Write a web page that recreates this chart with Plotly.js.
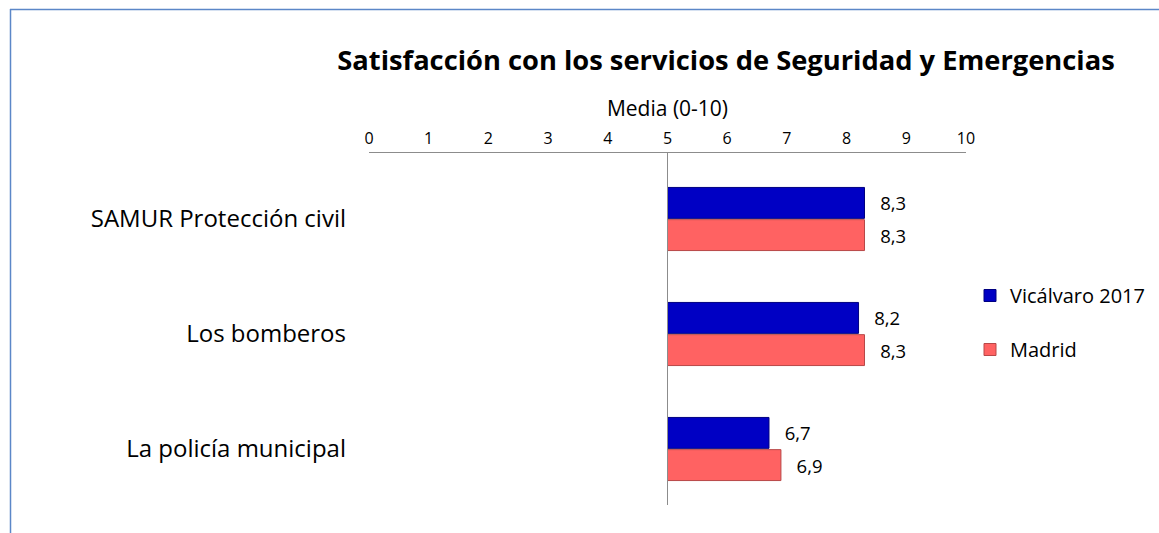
<!DOCTYPE html>
<html>
<head>
<meta charset="utf-8">
<script src="https://cdn.plot.ly/plotly-3.0.1.min.js"></script>
<style>
html,body{margin:0;padding:0;background:#fff;}
#chart{width:1159px;height:533px;}
</style>
</head>
<body>
<div id="chart"></div>
<script>
const categories = ["SAMUR Protección civil", "Los bomberos", "La policía municipal"];
const vicalvaro2017 = [8.3, 8.2, 6.7];
const madrid = [8.3, 8.3, 6.9];
const seriesNames = ["Vicálvaro 2017", "Madrid"];
const xTicks = [0, 1, 2, 3, 4, 5, 6, 7, 8, 9, 10];
const axisBase = 5;

const fmt = v => v.toFixed(1).replace('.', ',');
const FONT = "'Open Sans', sans-serif";

function mkTrace(vals, name, color, lineColor, group) {
  return {
    type: 'bar',
    orientation: 'h',
    name: name,
    legendgroup: group,
    y: categories,
    x: vals.map(v => v - axisBase),
    base: axisBase,
    text: vals.map(v => '  \u2009' + fmt(v)),
    textposition: 'outside',
    constraintext: 'none',
    cliponaxis: false,
    textfont: {family: FONT, size: 18.5, color: '#000'},
    marker: {color: color, line: {color: lineColor, width: 1}},
    hoverinfo: 'skip'
  };
}

const data = [
  mkTrace(vicalvaro2017, seriesNames[0], '#0000c4', '#000080', 'a'),
  mkTrace(madrid, seriesNames[1], '#ff6262', '#b84848', 'b')
];

const W = 597, H = 352, L = 369, T = 153;
const px2x = p => (p - L) / W;
const py2y = p => (T + H - p) / H;

const layout = {
  width: 1159, height: 533,
  margin: {l: L, r: 1159 - L - W, t: T, b: 533 - T - H, pad: 0, autoexpand: false},
  paper_bgcolor: '#fff', plot_bgcolor: 'rgba(0,0,0,0)',
  font: {family: FONT, color: '#000'},
  title: {
    text: '<b>Satisfacción con los servicios de Seguridad y Emergencias</b>',
    font: {family: FONT, size: 27.3, color: '#000'},
    xref: 'paper', x: px2x(726), xanchor: 'center',
    yref: 'container', y: 1 - 60 / 533, yanchor: 'middle'
  },
  barmode: 'group', bargap: 0.44, bargroupgap: 0.04,
  showlegend: true,
  legend: {
    x: px2x(970), xanchor: 'left', y: py2y(276), yanchor: 'top',
    font: {family: FONT, size: 20, color: '#000'},
    traceorder: 'grouped', tracegroupgap: 25,
    bgcolor: 'rgba(0,0,0,0)'
  },
  xaxis: {
    side: 'top', range: [0, 10], tickvals: xTicks, ticktext: xTicks.map(String),
    showgrid: false, zeroline: false, showline: true, linecolor: '#8c8c8c', linewidth: 1,
    ticks: '', ticklabelstandoff: 2, automargin: false,
    tickfont: {family: FONT, size: 16, color: '#000'},
    title: {text: 'Media (0-10)', font: {family: FONT, size: 21, color: '#000'}, standoff: 4},
    fixedrange: true
  },
  yaxis: {
    type: 'category', range: [2.487, -0.574], automargin: false,
    showgrid: false, zeroline: false, showline: false, ticks: '',
    ticklabelstandoff: 22,
    tickfont: {family: FONT, size: 24, color: '#000'},
    fixedrange: true
  },
  shapes: [
    {type: 'line', xref: 'x', yref: 'paper', x0: axisBase, x1: axisBase, y0: 0, y1: 1,
     line: {color: '#8c8c8c', width: 1}},
    {type: 'line', xref: 'paper', yref: 'paper', x0: px2x(10), x1: px2x(1160), y0: py2y(9.5), y1: py2y(9.5),
     line: {color: '#5b87c8', width: 1.5}},
    {type: 'line', xref: 'paper', yref: 'paper', x0: px2x(10.5), x1: px2x(10.5), y0: py2y(9), y1: py2y(534),
     line: {color: '#5b87c8', width: 1.5}}
  ]
};

Plotly.newPlot('chart', data, layout, {displayModeBar: false, staticPlot: true});
</script>
</body>
</html>
